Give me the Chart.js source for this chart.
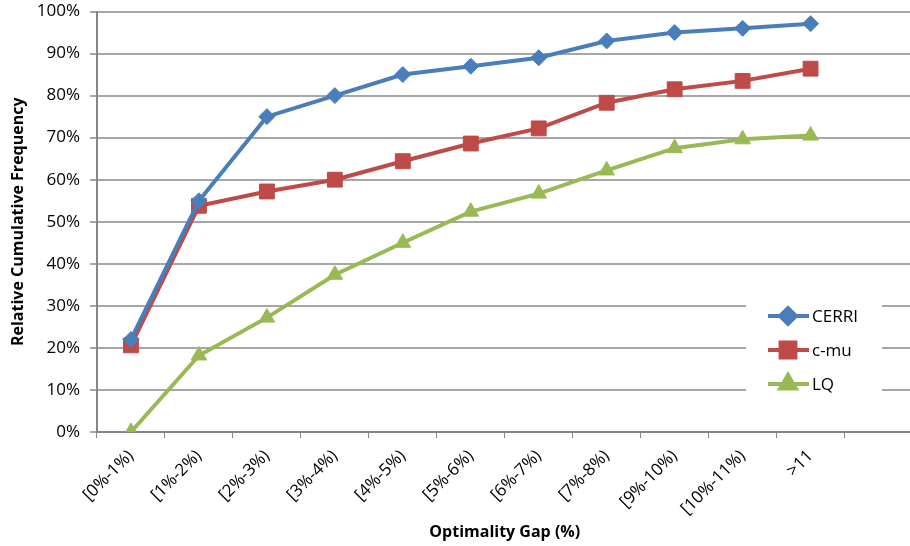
<!DOCTYPE html>
<html>
<head>
<meta charset="utf-8">
<script src="https://cdn.jsdelivr.net/npm/chart.js@4/dist/chart.umd.min.js"></script>
<style>
  html, body { margin: 0; padding: 0; background: #fff; overflow: hidden; }
  #wrap { width: 924px; height: 546px; }
</style>
</head>
<body>
<div id="wrap"><canvas id="c" width="924" height="546"></canvas></div>
<script>
// Optimality gap buckets (the trailing empty slot leaves room on the right)
const categories = ['[0%-1%)', '[1%-2%)', '[2%-3%)', '[3%-4%)', '[4%-5%)', '[5%-6%)',
  '[6%-7%)', '[7%-8%)', '[9%-10%)', '[10%-11%)', '>11', ''];

// Relative cumulative frequency (%) per method
const cerri = [22, 55, 75, 80, 85, 87, 89, 93, 95, 96, 97.1];
const cmu   = [20.6, 53.8, 57.2, 60, 64.4, 68.6, 72.2, 78.3, 81.5, 83.5, 86.4];
const lq    = [0, 18.2, 27.2, 37.4, 45, 52.4, 56.7, 62.2, 67.5, 69.6, 70.5];

const yTicks = [0, 10, 20, 30, 40, 50, 60, 70, 80, 90, 100];

const FONT = '"Open Sans", "Liberation Sans", sans-serif';
const GRID = '#a6a6a6';
const AXIS = '#868686';

// Legend drawn inside the plot, on a white box over the gridlines
const innerLegend = {
  id: 'innerLegend',
  afterDraw(chart) {
    const ctx = chart.ctx;
    const x0 = 746, y0 = 300;
    ctx.save();
    ctx.fillStyle = '#ffffff';
    ctx.fillRect(x0, y0, 136, 98);
    chart.data.datasets.forEach((ds, i) => {
      const y = 316 + i * 34;
      ctx.strokeStyle = ds.borderColor;
      ctx.lineWidth = 4;
      ctx.beginPath();
      ctx.moveTo(768, y);
      ctx.lineTo(809, y);
      ctx.stroke();
      ctx.fillStyle = ds.pointBackgroundColor;
      ctx.strokeStyle = ds.pointBorderColor;
      Chart.helpers.drawPoint(ctx, {
        pointStyle: ds.pointStyle,
        radius: ds.pointRadius,
        rotation: 0,
        borderWidth: 1
      }, 788, y);
      ctx.fillStyle = '#000';
      ctx.font = '17px ' + FONT;
      ctx.textAlign = 'left';
      ctx.textBaseline = 'middle';
      ctx.fillText(ds.label, 812, y + 1);
    });
    ctx.restore();
  }
};

new Chart(document.getElementById('c'), {
  type: 'line',
  data: {
    labels: categories,
    datasets: [
      { label: 'CERRI', data: cerri, borderColor: '#4a7ebb', pointBackgroundColor: '#4a7ebb',
        pointBorderColor: '#4a7ebb', pointStyle: 'rectRot', pointRadius: 8 },
      { label: 'c-mu', data: cmu, borderColor: '#be4b48', pointBackgroundColor: '#be4b48',
        pointBorderColor: '#be4b48', pointStyle: 'rect', pointRadius: 10.5 },
      { label: 'LQ', data: lq, borderColor: '#98b954', pointBackgroundColor: '#98b954',
        pointBorderColor: '#98b954', pointStyle: 'triangle', pointRadius: 9 }
    ].map(d => Object.assign({ borderWidth: 4, tension: 0, pointBorderWidth: 1,
      pointHoverRadius: d.pointRadius }, d))
  },
  options: {
    responsive: false,
    animation: false,
    layout: { padding: { top: 10, right: 2, left: 0, bottom: 0 } },
    plugins: { legend: { display: false }, tooltip: { enabled: false } },
    scales: {
      x: {
        offset: true,
        grid: { offset: true, drawOnChartArea: false, color: AXIS, tickLength: 6, lineWidth: 1 },
        border: { color: AXIS, width: 2 },
        ticks: { minRotation: 45, maxRotation: 45, autoSkip: false, color: '#000',
          font: { family: FONT, size: 17 }, padding: 8 },
        title: { display: true, text: 'Optimality Gap (%)', color: '#000',
          font: { family: FONT, size: 16, weight: 'bold' }, padding: { top: 0, bottom: 4 } },
        afterFit(scale) { scale.height = 114; }
      },
      y: {
        min: 0, max: 100,
        afterBuildTicks(scale) { scale.ticks = yTicks.map(v => ({ value: v })); },
        grid: { color: GRID, lineWidth: 2, tickLength: 7 },
        border: { color: AXIS, width: 2 },
        ticks: { color: '#000', font: { family: FONT, size: 17 }, padding: 10,
          callback: v => v + '%' },
        title: { display: true, text: 'Relative Cumulative Frequency', color: '#000',
          font: { family: FONT, size: 16, weight: 'bold' }, padding: { top: 9, bottom: 0 } },
        afterFit(scale) {
          scale.width = 97;
          scale.paddingTop = 0;
          scale.paddingBottom = 0;
        }
      }
    }
  },
  plugins: [innerLegend]
});
</script>
</body>
</html>
